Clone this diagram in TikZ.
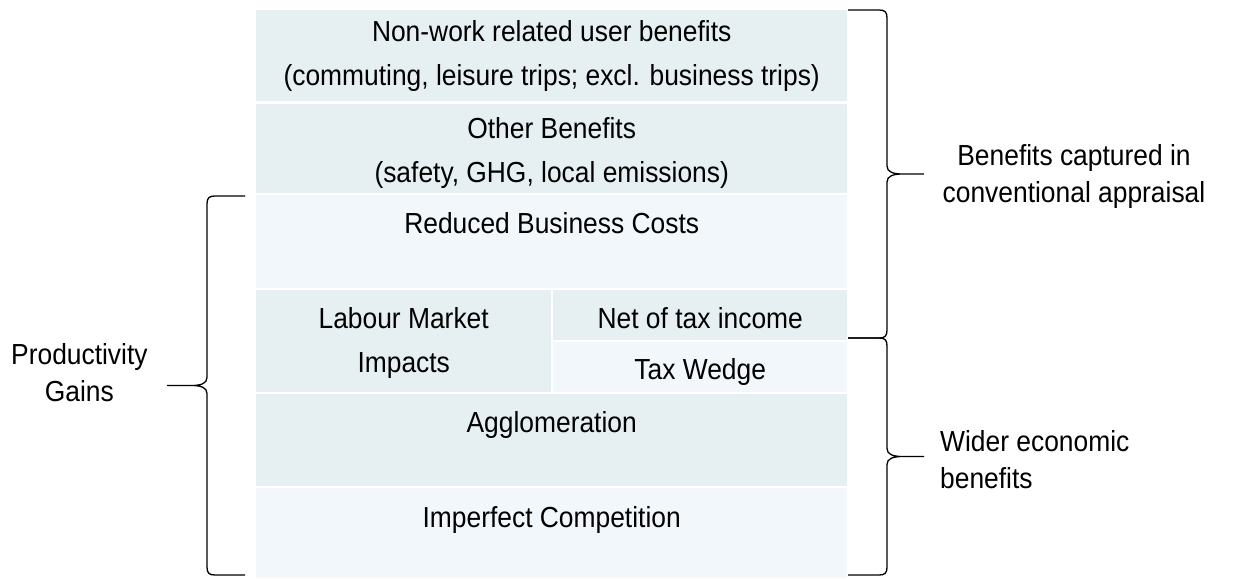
\documentclass[tikz,border=0pt]{standalone}
\usepackage{fontspec}
\setmainfont{Liberation Sans}[FakeStretch=0.91]
\usepackage{tikz}
\usetikzlibrary{positioning}
\definecolor{tiledark}{RGB}{230,240,243}
\definecolor{tilelight}{RGB}{241,247,250}
\newcommand\boxfont{\fontsize{29pt}{44pt}\selectfont}
\newcommand\sidefont{\fontsize{29pt}{37pt}\selectfont}
% curly brace: end x, stem x, tip x, top y, bottom y
\newcommand\Curly[5]{%
  \pgfmathsetmacro\bd{sign(#3-#2)}
  \pgfmathsetmacro\bm{(#4+#5)/2}
  \draw[line width=1.3pt] (#1,#4) -- ({#2-\bd*8},#4) .. controls ({#2-\bd*2},#4) and (#2,{#4+2}) .. (#2,{#4+8})
    -- (#2,{\bm-8}) .. controls (#2,{\bm-2}) and ({#2+\bd*6},\bm) .. ({#2+\bd*16},\bm) -- (#3,\bm)
    -- ({#2+\bd*16},\bm) .. controls ({#2+\bd*6},\bm) and (#2,{\bm+2}) .. (#2,{\bm+8})
    -- (#2,{#5-8}) .. controls (#2,{#5-2}) and ({#2-\bd*2},#5) .. ({#2-\bd*8},#5) -- (#1,#5);
}
\tikzset{
  tile/.style={draw=none, inner sep=0pt, anchor=north west},
  boxtext/.style={anchor=north, align=center, inner sep=0pt, font=\boxfont},
  side/.style={inner sep=0pt, font=\sidefont}
}

\begin{document}
\begin{tikzpicture}[x=1pt, y=-1pt]
  \useasboundingbox (0,0) rectangle (1233,578);

  % tiles of the stack
  \foreach \nm/\x/\y/\w/\h/\c in {nonwork/256/10/591/91/tiledark,
      other/256/104/591/89/tiledark,
      reduced/256/195/591/93/tilelight,
      labour/256/290/295/102/tiledark,
      net/553/290/294/50/tiledark,
      wedge/553/342/294/50/tilelight,
      agglo/256/394/591/92/tiledark,
      imperf/256/488/591/90/tilelight} {
    \node[tile, fill=\c, minimum width=\w pt, minimum height=\h pt] (\nm) at (\x,\y) {};
  }

  \node[boxtext] (t-nonwork) at ([yshift=-10pt]nonwork.north) {Non-work related user benefits\\(commuting, leisure trips; excl. business trips)};
  \node[boxtext] (t-other) at ([yshift=-13pt]other.north) {Other Benefits\\(safety, GHG, local emissions)};
  \node[boxtext] (t-reduced) at ([yshift=-17pt]reduced.north) {Reduced Business Costs};
  \node[boxtext] (t-labour) at ([yshift=-17pt]labour.north) {Labour Market\\Impacts};
  \node[boxtext] (t-net) at ([yshift=-17pt]net.north) {Net of tax income};
  \node[boxtext] (t-wedge) at ([yshift=-16pt]wedge.north) {Tax Wedge};
  \node[boxtext] (t-agglo) at ([yshift=-17pt]agglo.north) {Agglomeration};
  \node[boxtext] (t-imperf) at ([yshift=-18pt]imperf.north) {Imperfect Competition};

  % braces
  \Curly{848}{887}{924}{10}{338}
  \Curly{848}{887}{924}{338}{575}
  \Curly{245}{207}{167}{196}{575}

  \node[side, align=center] (conv) at (1074,177) {Benefits captured in\\conventional appraisal};
  \node[side, align=left, anchor=west] (wider) at (940,460) {Wider economic\\benefits};
  \node[side, align=center, anchor=west] (prod) at (11,373) {Productivity\\Gains};
\end{tikzpicture}
\end{document}
